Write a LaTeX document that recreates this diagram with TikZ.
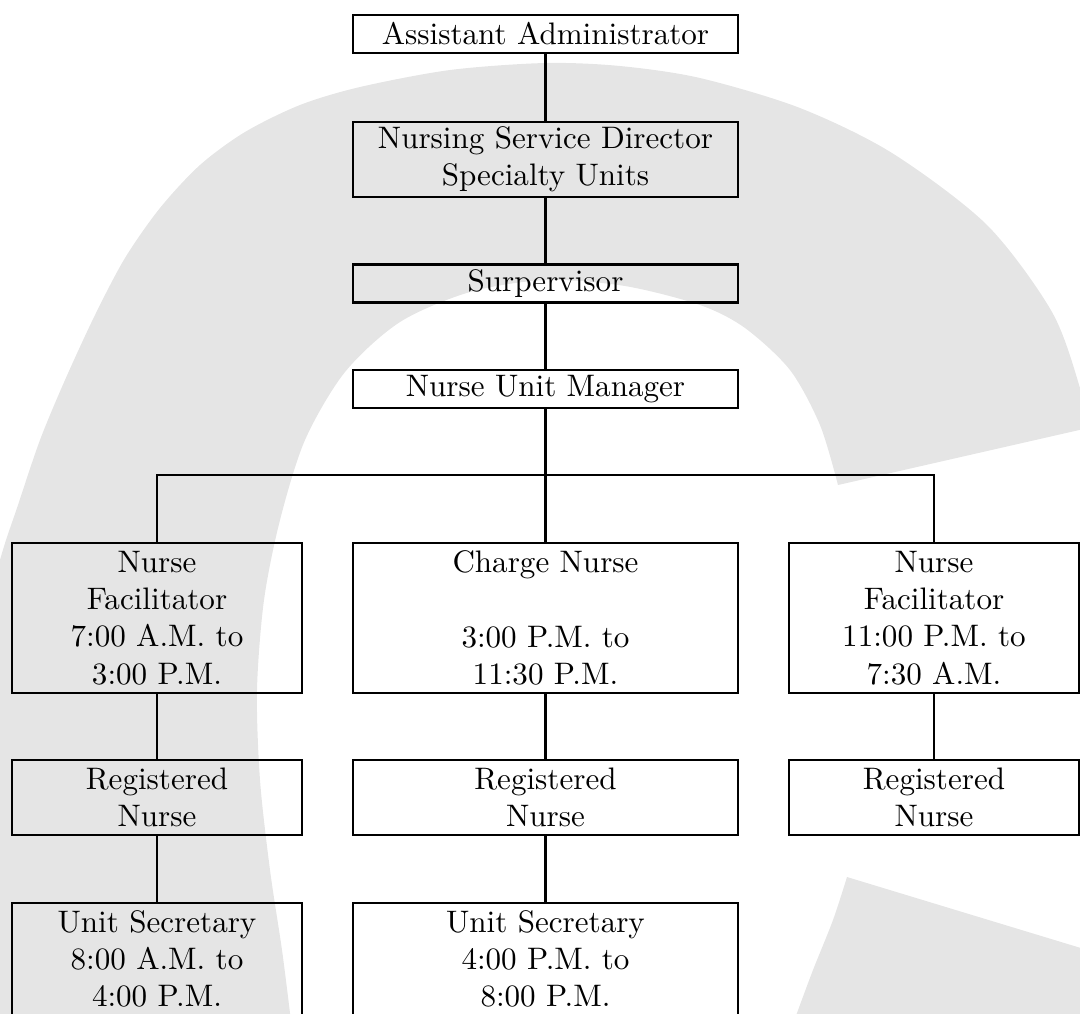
\documentclass[tikz,border=0pt]{standalone}
\usepackage{xcolor}
\usepackage{tikz}
\usetikzlibrary{positioning}

\definecolor{markgray}{RGB}{229,229,229}

\begin{document}
\begin{tikzpicture}[
    x=0.0113cm, y=-0.0113cm,
    box/.style={rectangle, draw=black, line width=0.7pt, align=center, inner sep=0pt},
    wide/.style={box, minimum width=4.35cm},
    narrow/.style={box, minimum width=3.27cm},
    link/.style={line width=0.7pt},
]
\useasboundingbox (0,0) rectangle (1080,1013);

% Watermark letter
\fill[markgray]
    plot[smooth] coordinates {(1088,428) (1080,388) (1052,312) (987,225) (892,153) (800,108) (700,78) (620,66) (545,63) (450,70) (360,87) (300,105) (245,132) (200,165) (160,208) (125,258) (95,315) (65,380) (40,440) (18,505) (0,560) (-25,660) (-45,780) (-55,920) (-60,1060)}
    -- (1150,1060) -- (1150,969) --
    plot[smooth] coordinates {(847,877) (833,920) (813,970) (797,1013) (780,1060)}
    -- (300,1060) --
    plot[smooth] coordinates {(290,1013) (282,950) (270,870) (260,780) (257,690) (264,600) (280,520) (305,440) (345,372) (400,322) (470,292) (546,280) (625,286) (700,305) (745,328) (790,370) (820,425) (838,485)}
    -- cycle;

% Boxes
\node[wide, minimum height=0.43cm] (admin) at (545.5,34) {Assistant Administrator};
\node[wide, minimum height=0.85cm] (director) at (545.5,159.5) {Nursing Service Director\\ Specialty Units};
\node[wide, minimum height=0.43cm] (super) at (545.5,283.5) {Surpervisor};
\node[wide, minimum height=0.43cm] (manager) at (545.5,389) {Nurse Unit Manager};

\node[narrow, minimum height=1.69cm] (dayfac) at (157,618) {Nurse\\ Facilitator\\ 7:00 A.M. to\\ 3:00 P.M.};
\node[wide, minimum height=1.69cm] (charge) at (545.5,618) {Charge Nurse\\ ~\\ 3:00 P.M. to\\ 11:30 P.M.};
\node[narrow, minimum height=1.69cm] (nightfac) at (934,618) {Nurse\\ Facilitator\\ 11:00 P.M. to\\ 7:30 A.M.};

\node[narrow, minimum height=0.85cm] (dayrn) at (157,797.5) {Registered\\ Nurse};
\node[wide, minimum height=0.85cm] (evern) at (545.5,797.5) {Registered\\ Nurse};
\node[narrow, minimum height=0.85cm] (nightrn) at (934,797.5) {Registered\\ Nurse};

\node[narrow, minimum height=1.27cm] (daysec) at (157,959) {Unit Secretary\\ 8:00 A.M. to\\ 4:00 P.M.};
\node[wide, minimum height=1.27cm] (evesec) at (545.5,959) {Unit Secretary\\ 4:00 P.M. to\\ 8:00 P.M.};

% Lines
\coordinate (bar) at (545.5,475);
\draw[link] (admin) -- (director);
\draw[link] (director) -- (super);
\draw[link] (super) -- (manager);
\draw[link] (manager) -- (charge);
\draw[link] (dayfac.north) |- (bar) -| (nightfac.north);
\draw[link] (dayfac) -- (dayrn);
\draw[link] (dayrn) -- (daysec);
\draw[link] (charge) -- (evern);
\draw[link] (evern) -- (evesec);
\draw[link] (nightfac) -- (nightrn);

\end{tikzpicture}
\end{document}
